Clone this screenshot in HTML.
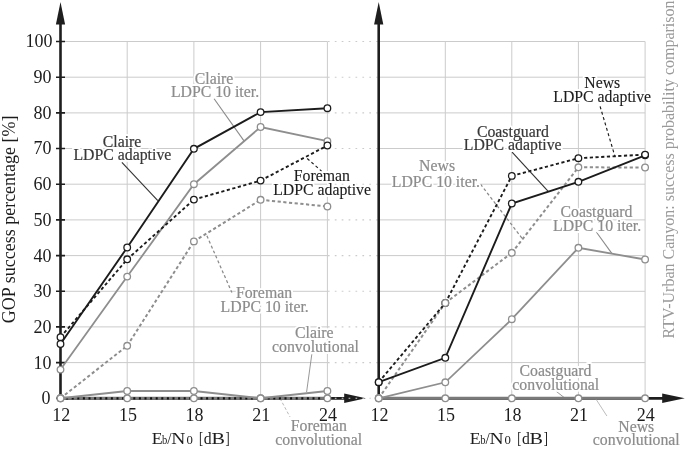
<!DOCTYPE html>
<html><head><meta charset="utf-8"><style>
html,body{margin:0;padding:0;background:#fff;}
svg{display:block;will-change:transform;}
text{font-family:"Liberation Serif",serif;}
.h{paint-order:stroke;stroke:#fff;stroke-width:3.2px;stroke-linejoin:round;}
</style></head><body>
<svg width="685" height="449" viewBox="0 0 685 449">
<rect width="685" height="449" fill="#fff"/>
<path d="M60.5 398.3H327.4 M378.7 398.3H645.1 M60.5 362.6H327.4 M378.7 362.6H645.1 M60.5 326.9H327.4 M378.7 326.9H645.1 M60.5 291.3H327.4 M378.7 291.3H645.1 M60.5 255.6H327.4 M378.7 255.6H645.1 M60.5 219.9H327.4 M378.7 219.9H645.1 M60.5 184.2H327.4 M378.7 184.2H645.1 M60.5 148.5H327.4 M378.7 148.5H645.1 M60.5 112.9H327.4 M378.7 112.9H645.1 M60.5 77.2H327.4 M378.7 77.2H645.1 M60.5 41.5H327.4 M378.7 41.5H645.1 M127.2 41.5V398.3 M193.9 41.5V398.3 M260.6 41.5V398.3 M327.4 41.5V398.3 M445.3 41.5V398.3 M511.8 41.5V398.3 M578.4 41.5V398.3 M645.1 41.5V398.3" stroke="#cbcbcb" stroke-width="1" fill="none"/>
<path d="M327.9 362.6H377.7 M327.9 326.9H377.7 M327.9 291.3H377.7 M327.9 255.6H377.7 M327.9 219.9H377.7 M327.9 184.2H377.7 M327.9 148.5H377.7 M327.9 112.9H377.7 M327.9 77.2H377.7 M327.9 41.5H377.7" stroke="#cbcbcb" stroke-width="1.1" stroke-dasharray="1.7 5.2" fill="none"/>
<path d="M60.5 24V398.3" stroke="#1e1e1e" stroke-width="2.6" fill="none"/>
<path d="M378.7 24V398.3" stroke="#1e1e1e" stroke-width="2.6" fill="none"/>
<path d="M56 398.3H65 M56 362.6H65 M56 326.9H65 M56 291.3H65 M56 255.6H65 M56 219.9H65 M56 184.2H65 M56 148.5H65 M56 112.9H65 M56 77.2H65 M56 41.5H65" stroke="#1e1e1e" stroke-width="1.6" fill="none"/>
<path d="M60.5 2L55.9 24.5H65.1Z" fill="#1e1e1e"/>
<path d="M378.7 2L374.09999999999997 24.5H383.3Z" fill="#1e1e1e"/>
<path d="M60.5 398.3H346" stroke="#1e1e1e" stroke-width="2.7" fill="none"/>
<path d="M378.7 398.3H664" stroke="#1e1e1e" stroke-width="2.7" fill="none"/>
<path d="M365.8 398.3L344.2 393.6V403.0Z" fill="#1e1e1e"/>
<path d="M684.8 398.3L662.2 393.6V403.0Z" fill="#1e1e1e"/>
<path d="M327.9 398.3H377.7" stroke="#d4d4d4" stroke-width="1.1" stroke-dasharray="1.7 5.2" fill="none"/>
<path d="M121.9 162.3L157.8 200.6" stroke="#333" stroke-width="1.15" fill="none"/>
<path d="M214.1 98.8L244.0 140.9" stroke="#8a8a8a" stroke-width="1.1" fill="none"/>
<path d="M307.2 158.5L322.3 171.8" stroke="#1c1c1c" stroke-width="1.15" fill="none" stroke-dasharray="3 2.6"/>
<path d="M206.9 235.8L231.9 292.6" stroke="#8a8a8a" stroke-width="1.25" fill="none" stroke-dasharray="3 2.4"/>
<path d="M311.8 354.3L306.6 392.0" stroke="#8c8c8c" stroke-width="0.9" fill="none"/>
<path d="M280 398.4L290 416.9" stroke="#b0b0b0" stroke-width="0.9" fill="none" stroke-dasharray="3 2"/>
<path d="M600.1 106.4L615.1 156.9" stroke="#1c1c1c" stroke-width="1.15" fill="none" stroke-dasharray="3 2.6"/>
<path d="M512.1 152.1L548.2 191.4" stroke="#333" stroke-width="1.15" fill="none"/>
<path d="M480.6 184.3L522.3 238.6" stroke="#8a8a8a" stroke-width="1.25" fill="none" stroke-dasharray="3 2.4"/>
<path d="M596.5 232.2L611.8 253.4" stroke="#8a8a8a" stroke-width="1.1" fill="none"/>
<path d="M555.5 390.8L564 397.4" stroke="#8c8c8c" stroke-width="0.9" fill="none"/>
<path d="M596 399.2L606.9 416" stroke="#b4b4b4" stroke-width="0.9" fill="none"/>
<path d="M60.5 398.3 L127.2 398.3 L193.9 398.3 L260.6 398.3 L327.4 398.3" stroke="#7a7a7a" stroke-width="3" fill="none"/>
<path d="M60.5 398.3 L127.2 398.3 L193.9 398.3 L260.6 398.3 L327.4 398.3" stroke="#111" stroke-width="2.2" fill="none" stroke-dasharray="2 3.6"/>
<path d="M60.5 398.3 L127.2 391.0 L193.9 391.0 L260.6 398.3 L327.4 391.0" stroke="#8e8e8e" stroke-width="2.0" fill="none"/>
<path d="M60.5 398.3L127.2 345.8 M127.2 345.8L193.9 241.4 M193.9 241.4L260.6 199.8 M260.6 199.8L327.4 206.5" stroke="#8e8e8e" stroke-width="2.0" fill="none" stroke-dasharray="3.2 2.5"/>
<path d="M60.5 369.6 L127.2 276.6 L193.9 184.2 L260.6 127.0 L327.4 141.2" stroke="#8e8e8e" stroke-width="1.8" fill="none"/>
<path d="M60.5 337.2L127.2 259.3 M127.2 259.3L193.9 199.6 M193.9 199.6L260.6 180.6 M260.6 180.6L327.4 145.5" stroke="#1c1c1c" stroke-width="1.9" fill="none" stroke-dasharray="3.2 2.5"/>
<path d="M60.5 344.0 L127.2 247.5 L193.9 148.8 L260.6 112.1 L327.4 108.2" stroke="#1c1c1c" stroke-width="1.9" fill="none"/>
<circle cx="60.5" cy="398.3" r="3.3" fill="#fff" stroke="#8e8e8e" stroke-width="1.3"/>
<circle cx="127.2" cy="398.3" r="3.3" fill="#fff" stroke="#8e8e8e" stroke-width="1.3"/>
<circle cx="193.9" cy="398.3" r="3.3" fill="#fff" stroke="#8e8e8e" stroke-width="1.3"/>
<circle cx="260.6" cy="398.3" r="3.3" fill="#fff" stroke="#8e8e8e" stroke-width="1.3"/>
<circle cx="327.4" cy="398.3" r="3.3" fill="#fff" stroke="#8e8e8e" stroke-width="1.3"/>
<circle cx="60.5" cy="398.3" r="3.3" fill="#fff" stroke="#8e8e8e" stroke-width="1.3"/>
<circle cx="127.2" cy="391.0" r="3.3" fill="#fff" stroke="#8e8e8e" stroke-width="1.3"/>
<circle cx="193.9" cy="391.0" r="3.3" fill="#fff" stroke="#8e8e8e" stroke-width="1.3"/>
<circle cx="260.6" cy="398.3" r="3.3" fill="#fff" stroke="#8e8e8e" stroke-width="1.3"/>
<circle cx="327.4" cy="391.0" r="3.3" fill="#fff" stroke="#8e8e8e" stroke-width="1.3"/>
<circle cx="60.5" cy="398.3" r="3.3" fill="#fff" stroke="#8e8e8e" stroke-width="1.3"/>
<circle cx="127.2" cy="345.8" r="3.3" fill="#fff" stroke="#8e8e8e" stroke-width="1.3"/>
<circle cx="193.9" cy="241.4" r="3.3" fill="#fff" stroke="#8e8e8e" stroke-width="1.3"/>
<circle cx="260.6" cy="199.8" r="3.3" fill="#fff" stroke="#8e8e8e" stroke-width="1.3"/>
<circle cx="327.4" cy="206.5" r="3.3" fill="#fff" stroke="#8e8e8e" stroke-width="1.3"/>
<circle cx="60.5" cy="369.6" r="3.3" fill="#fff" stroke="#8e8e8e" stroke-width="1.3"/>
<circle cx="127.2" cy="276.6" r="3.3" fill="#fff" stroke="#8e8e8e" stroke-width="1.3"/>
<circle cx="193.9" cy="184.2" r="3.3" fill="#fff" stroke="#8e8e8e" stroke-width="1.3"/>
<circle cx="260.6" cy="127.0" r="3.3" fill="#fff" stroke="#8e8e8e" stroke-width="1.3"/>
<circle cx="327.4" cy="141.2" r="3.3" fill="#fff" stroke="#8e8e8e" stroke-width="1.3"/>
<circle cx="60.5" cy="337.2" r="3.3" fill="#fff" stroke="#1c1c1c" stroke-width="1.3"/>
<circle cx="127.2" cy="259.3" r="3.3" fill="#fff" stroke="#1c1c1c" stroke-width="1.3"/>
<circle cx="193.9" cy="199.6" r="3.3" fill="#fff" stroke="#1c1c1c" stroke-width="1.3"/>
<circle cx="260.6" cy="180.6" r="3.3" fill="#fff" stroke="#1c1c1c" stroke-width="1.3"/>
<circle cx="327.4" cy="145.5" r="3.3" fill="#fff" stroke="#1c1c1c" stroke-width="1.3"/>
<circle cx="60.5" cy="344.0" r="3.3" fill="#fff" stroke="#1c1c1c" stroke-width="1.3"/>
<circle cx="127.2" cy="247.5" r="3.3" fill="#fff" stroke="#1c1c1c" stroke-width="1.3"/>
<circle cx="193.9" cy="148.8" r="3.3" fill="#fff" stroke="#1c1c1c" stroke-width="1.3"/>
<circle cx="260.6" cy="112.1" r="3.3" fill="#fff" stroke="#1c1c1c" stroke-width="1.3"/>
<circle cx="327.4" cy="108.2" r="3.3" fill="#fff" stroke="#1c1c1c" stroke-width="1.3"/>
<path d="M378.7 398.3 L445.3 398.3 L511.8 398.3 L578.4 398.3 L645.1 398.3" stroke="#7a7a7a" stroke-width="3" fill="none"/>
<path d="M378.7 398.3 L445.3 382.3 L511.8 319.2 L578.4 247.8 L645.1 259.5" stroke="#8e8e8e" stroke-width="1.8" fill="none"/>
<path d="M378.7 398.3L445.3 303.0 M445.3 303.0L511.8 252.8 M511.8 252.8L578.4 167.3 M578.4 167.3L645.1 167.5" stroke="#8e8e8e" stroke-width="2.0" fill="none" stroke-dasharray="3.2 2.5"/>
<path d="M378.7 382.2 L445.3 357.8 L511.8 203.5 L578.4 181.8 L645.1 155.3" stroke="#1c1c1c" stroke-width="1.9" fill="none"/>
<path d="M378.7 382.2L445.3 303.0 M445.3 303.0L511.8 175.9 M511.8 175.9L578.4 158.2 M578.4 158.2L645.1 154.6" stroke="#1c1c1c" stroke-width="1.9" fill="none" stroke-dasharray="3.2 2.5"/>
<circle cx="378.7" cy="398.3" r="3.3" fill="#fff" stroke="#8e8e8e" stroke-width="1.3"/>
<circle cx="445.3" cy="398.3" r="3.3" fill="#fff" stroke="#8e8e8e" stroke-width="1.3"/>
<circle cx="511.8" cy="398.3" r="3.3" fill="#fff" stroke="#8e8e8e" stroke-width="1.3"/>
<circle cx="578.4" cy="398.3" r="3.3" fill="#fff" stroke="#8e8e8e" stroke-width="1.3"/>
<circle cx="645.1" cy="398.3" r="3.3" fill="#fff" stroke="#8e8e8e" stroke-width="1.3"/>
<circle cx="378.7" cy="398.3" r="3.3" fill="#fff" stroke="#8e8e8e" stroke-width="1.3"/>
<circle cx="445.3" cy="382.3" r="3.3" fill="#fff" stroke="#8e8e8e" stroke-width="1.3"/>
<circle cx="511.8" cy="319.2" r="3.3" fill="#fff" stroke="#8e8e8e" stroke-width="1.3"/>
<circle cx="578.4" cy="247.8" r="3.3" fill="#fff" stroke="#8e8e8e" stroke-width="1.3"/>
<circle cx="645.1" cy="259.5" r="3.3" fill="#fff" stroke="#8e8e8e" stroke-width="1.3"/>
<circle cx="378.7" cy="382.2" r="3.3" fill="#fff" stroke="#1c1c1c" stroke-width="1.3"/>
<circle cx="445.3" cy="357.8" r="3.3" fill="#fff" stroke="#1c1c1c" stroke-width="1.3"/>
<circle cx="511.8" cy="203.5" r="3.3" fill="#fff" stroke="#1c1c1c" stroke-width="1.3"/>
<circle cx="578.4" cy="181.8" r="3.3" fill="#fff" stroke="#1c1c1c" stroke-width="1.3"/>
<circle cx="645.1" cy="155.3" r="3.3" fill="#fff" stroke="#1c1c1c" stroke-width="1.3"/>
<circle cx="378.7" cy="382.2" r="3.3" fill="#fff" stroke="#1c1c1c" stroke-width="1.3"/>
<circle cx="445.3" cy="303.0" r="3.3" fill="#fff" stroke="#1c1c1c" stroke-width="1.3"/>
<circle cx="511.8" cy="175.9" r="3.3" fill="#fff" stroke="#1c1c1c" stroke-width="1.3"/>
<circle cx="578.4" cy="158.2" r="3.3" fill="#fff" stroke="#1c1c1c" stroke-width="1.3"/>
<circle cx="645.1" cy="154.6" r="3.3" fill="#fff" stroke="#1c1c1c" stroke-width="1.3"/>
<circle cx="378.7" cy="398.3" r="3.3" fill="#fff" stroke="#8e8e8e" stroke-width="1.3"/>
<circle cx="445.3" cy="303.0" r="3.3" fill="#fff" stroke="#8e8e8e" stroke-width="1.3"/>
<circle cx="511.8" cy="252.8" r="3.3" fill="#fff" stroke="#8e8e8e" stroke-width="1.3"/>
<circle cx="578.4" cy="167.3" r="3.3" fill="#fff" stroke="#8e8e8e" stroke-width="1.3"/>
<circle cx="645.1" cy="167.5" r="3.3" fill="#fff" stroke="#8e8e8e" stroke-width="1.3"/>
<text x="122.1" y="146.9" fill="#fff" stroke="#fff" stroke-width="4" stroke-linejoin="round" font-size="15.8" text-anchor="middle">Claire</text>
<text x="122.4" y="160.3" fill="#fff" stroke="#fff" stroke-width="4" stroke-linejoin="round" font-size="15.8" text-anchor="middle">LDPC adaptive</text>
<text x="214.1" y="83.7" fill="#fff" stroke="#fff" stroke-width="4" stroke-linejoin="round" font-size="15.8" text-anchor="middle">Claire</text>
<text x="215.0" y="97.0" fill="#fff" stroke="#fff" stroke-width="4" stroke-linejoin="round" font-size="15.8" text-anchor="middle">LDPC 10 iter.</text>
<text x="321.9" y="181.0" fill="#fff" stroke="#fff" stroke-width="4" stroke-linejoin="round" font-size="15.8" text-anchor="middle">Foreman</text>
<text x="322.1" y="194.7" fill="#fff" stroke="#fff" stroke-width="4" stroke-linejoin="round" font-size="15.8" text-anchor="middle">LDPC adaptive</text>
<text x="264.0" y="298.4" fill="#fff" stroke="#fff" stroke-width="4" stroke-linejoin="round" font-size="15.8" text-anchor="middle">Foreman</text>
<text x="264.7" y="311.9" fill="#fff" stroke="#fff" stroke-width="4" stroke-linejoin="round" font-size="15.8" text-anchor="middle">LDPC 10 iter.</text>
<text x="314.3" y="337.8" fill="#fff" stroke="#fff" stroke-width="4" stroke-linejoin="round" font-size="15.8" text-anchor="middle">Claire</text>
<text x="315.5" y="351.8" fill="#fff" stroke="#fff" stroke-width="4" stroke-linejoin="round" font-size="15.8" text-anchor="middle">convolutional</text>
<text x="318.9" y="430.7" fill="#fff" stroke="#fff" stroke-width="4" stroke-linejoin="round" font-size="15.8" text-anchor="middle">Foreman</text>
<text x="318.7" y="445.0" fill="#fff" stroke="#fff" stroke-width="4" stroke-linejoin="round" font-size="15.8" text-anchor="middle">convolutional</text>
<text x="602.3" y="88.1" fill="#fff" stroke="#fff" stroke-width="4" stroke-linejoin="round" font-size="15.8" text-anchor="middle">News</text>
<text x="602.2" y="101.9" fill="#fff" stroke="#fff" stroke-width="4" stroke-linejoin="round" font-size="15.8" text-anchor="middle">LDPC adaptive</text>
<text x="512.9" y="136.6" fill="#fff" stroke="#fff" stroke-width="4" stroke-linejoin="round" font-size="15.8" text-anchor="middle">Coastguard</text>
<text x="512.7" y="150.1" fill="#fff" stroke="#fff" stroke-width="4" stroke-linejoin="round" font-size="15.8" text-anchor="middle">LDPC adaptive</text>
<text x="437.1" y="171.4" fill="#fff" stroke="#fff" stroke-width="4" stroke-linejoin="round" font-size="15.8" text-anchor="middle">News</text>
<text x="435.9" y="186.6" fill="#fff" stroke="#fff" stroke-width="4" stroke-linejoin="round" font-size="15.8" text-anchor="middle">LDPC 10 iter.</text>
<text x="596.5" y="217.0" fill="#fff" stroke="#fff" stroke-width="4" stroke-linejoin="round" font-size="15.8" text-anchor="middle">Coastguard</text>
<text x="597.1" y="231.2" fill="#fff" stroke="#fff" stroke-width="4" stroke-linejoin="round" font-size="15.8" text-anchor="middle">LDPC 10 iter.</text>
<text x="555.5" y="376.2" fill="#fff" stroke="#fff" stroke-width="4" stroke-linejoin="round" font-size="15.8" text-anchor="middle">Coastguard</text>
<text x="555.8" y="389.5" fill="#fff" stroke="#fff" stroke-width="4" stroke-linejoin="round" font-size="15.8" text-anchor="middle">convolutional</text>
<text x="636.3" y="431.7" fill="#fff" stroke="#fff" stroke-width="4" stroke-linejoin="round" font-size="15.8" text-anchor="middle">News</text>
<text x="636.3" y="445.1" fill="#fff" stroke="#fff" stroke-width="4" stroke-linejoin="round" font-size="15.8" text-anchor="middle">convolutional</text>
<text x="122.1" y="146.9" fill="#383838" stroke="#383838" stroke-width="0.2" font-size="15.8" text-anchor="middle">Claire</text>
<text x="122.4" y="160.3" fill="#383838" stroke="#383838" stroke-width="0.2" font-size="15.8" text-anchor="middle">LDPC adaptive</text>
<text x="214.1" y="83.7" fill="#8c8c8c" stroke="#8c8c8c" stroke-width="0.2" font-size="15.8" text-anchor="middle">Claire</text>
<text x="215.0" y="97.0" fill="#8c8c8c" stroke="#8c8c8c" stroke-width="0.2" font-size="15.8" text-anchor="middle">LDPC 10 iter.</text>
<text x="321.9" y="181.0" fill="#1c1c1c" stroke="#1c1c1c" stroke-width="0.12" font-size="15.8" text-anchor="middle">Foreman</text>
<text x="322.1" y="194.7" fill="#1c1c1c" stroke="#1c1c1c" stroke-width="0.12" font-size="15.8" text-anchor="middle">LDPC adaptive</text>
<text x="264.0" y="298.4" fill="#8c8c8c" stroke="#8c8c8c" stroke-width="0.2" font-size="15.8" text-anchor="middle">Foreman</text>
<text x="264.7" y="311.9" fill="#8c8c8c" stroke="#8c8c8c" stroke-width="0.2" font-size="15.8" text-anchor="middle">LDPC 10 iter.</text>
<text x="314.3" y="337.8" fill="#8c8c8c" stroke="#8c8c8c" stroke-width="0.2" font-size="15.8" text-anchor="middle">Claire</text>
<text x="315.5" y="351.8" fill="#8c8c8c" stroke="#8c8c8c" stroke-width="0.2" font-size="15.8" text-anchor="middle">convolutional</text>
<text x="318.9" y="430.7" fill="#8c8c8c" stroke="#8c8c8c" stroke-width="0.2" font-size="15.8" text-anchor="middle">Foreman</text>
<text x="318.7" y="445.0" fill="#8c8c8c" stroke="#8c8c8c" stroke-width="0.2" font-size="15.8" text-anchor="middle">convolutional</text>
<text x="602.3" y="88.1" fill="#1c1c1c" stroke="#1c1c1c" stroke-width="0.12" font-size="15.8" text-anchor="middle">News</text>
<text x="602.2" y="101.9" fill="#1c1c1c" stroke="#1c1c1c" stroke-width="0.12" font-size="15.8" text-anchor="middle">LDPC adaptive</text>
<text x="512.9" y="136.6" fill="#383838" stroke="#383838" stroke-width="0.2" font-size="15.8" text-anchor="middle">Coastguard</text>
<text x="512.7" y="150.1" fill="#383838" stroke="#383838" stroke-width="0.2" font-size="15.8" text-anchor="middle">LDPC adaptive</text>
<text x="437.1" y="171.4" fill="#8c8c8c" stroke="#8c8c8c" stroke-width="0.2" font-size="15.8" text-anchor="middle">News</text>
<text x="435.9" y="186.6" fill="#8c8c8c" stroke="#8c8c8c" stroke-width="0.2" font-size="15.8" text-anchor="middle">LDPC 10 iter.</text>
<text x="596.5" y="217.0" fill="#8c8c8c" stroke="#8c8c8c" stroke-width="0.2" font-size="15.8" text-anchor="middle">Coastguard</text>
<text x="597.1" y="231.2" fill="#8c8c8c" stroke="#8c8c8c" stroke-width="0.2" font-size="15.8" text-anchor="middle">LDPC 10 iter.</text>
<text x="555.5" y="376.2" fill="#8c8c8c" stroke="#8c8c8c" stroke-width="0.2" font-size="15.8" text-anchor="middle">Coastguard</text>
<text x="555.8" y="389.5" fill="#8c8c8c" stroke="#8c8c8c" stroke-width="0.2" font-size="15.8" text-anchor="middle">convolutional</text>
<text x="636.3" y="431.7" fill="#8c8c8c" stroke="#8c8c8c" stroke-width="0.2" font-size="15.8" text-anchor="middle">News</text>
<text x="636.3" y="445.1" fill="#8c8c8c" stroke="#8c8c8c" stroke-width="0.2" font-size="15.8" text-anchor="middle">convolutional</text>
<text x="50.6" y="404.2" font-size="18" text-anchor="end" fill="#1c1c1c">0</text>
<text x="51.4" y="368.5" font-size="18" text-anchor="end" fill="#1c1c1c">10</text>
<text x="51.4" y="332.8" font-size="18" text-anchor="end" fill="#1c1c1c">20</text>
<text x="51.4" y="297.2" font-size="18" text-anchor="end" fill="#1c1c1c">30</text>
<text x="51.4" y="261.5" font-size="18" text-anchor="end" fill="#1c1c1c">40</text>
<text x="51.4" y="225.8" font-size="18" text-anchor="end" fill="#1c1c1c">50</text>
<text x="51.4" y="190.1" font-size="18" text-anchor="end" fill="#1c1c1c">60</text>
<text x="51.4" y="154.4" font-size="18" text-anchor="end" fill="#1c1c1c">70</text>
<text x="51.4" y="118.8" font-size="18" text-anchor="end" fill="#1c1c1c">80</text>
<text x="51.4" y="83.1" font-size="18" text-anchor="end" fill="#1c1c1c">90</text>
<text x="52.6" y="47.4" font-size="18" text-anchor="end" fill="#1c1c1c">100</text>
<text x="61.2" y="420.8" font-size="18" text-anchor="middle" fill="#1c1c1c">12</text>
<text x="127.9" y="420.8" font-size="18" text-anchor="middle" fill="#1c1c1c">15</text>
<text x="194.6" y="420.8" font-size="18" text-anchor="middle" fill="#1c1c1c">18</text>
<text x="261.3" y="420.8" font-size="18" text-anchor="middle" fill="#1c1c1c">21</text>
<text x="328.1" y="420.8" font-size="18" text-anchor="middle" fill="#1c1c1c">24</text>
<text x="379.4" y="420.8" font-size="18" text-anchor="middle" fill="#1c1c1c">12</text>
<text x="446.0" y="420.8" font-size="18" text-anchor="middle" fill="#1c1c1c">15</text>
<text x="512.5" y="420.8" font-size="18" text-anchor="middle" fill="#1c1c1c">18</text>
<text x="579.1" y="420.8" font-size="18" text-anchor="middle" fill="#1c1c1c">21</text>
<text x="645.8" y="420.8" font-size="18" text-anchor="middle" fill="#1c1c1c">24</text>
<text x="151.69" y="443.9" font-size="17.5" fill="#1c1c1c" textLength="10.90" lengthAdjust="spacingAndGlyphs">E</text>
<text x="162.00" y="443.9" font-size="12.5" fill="#1c1c1c" textLength="5.30" lengthAdjust="spacingAndGlyphs">b</text>
<text x="167.20" y="443.9" font-size="17.5" fill="#1c1c1c" textLength="4.30" lengthAdjust="spacingAndGlyphs">/</text>
<text x="171.34" y="443.9" font-size="17.5" fill="#1c1c1c" textLength="14.11" lengthAdjust="spacingAndGlyphs">N</text>
<text x="186.41" y="443.9" font-size="13" fill="#1c1c1c" textLength="6.37" lengthAdjust="spacingAndGlyphs">0</text>
<text x="199.00" y="443.9" font-size="17.5" fill="#1c1c1c" textLength="4.04" lengthAdjust="spacingAndGlyphs">[</text>
<text x="203.83" y="443.9" font-size="17.5" fill="#1c1c1c" textLength="7.86" lengthAdjust="spacingAndGlyphs">d</text>
<text x="211.42" y="443.9" font-size="17.5" fill="#1c1c1c" textLength="13.47" lengthAdjust="spacingAndGlyphs">B</text>
<text x="225.55" y="443.9" font-size="17.5" fill="#1c1c1c" textLength="4.19" lengthAdjust="spacingAndGlyphs">]</text>
<text x="469.89" y="443.9" font-size="17.5" fill="#1c1c1c" textLength="10.90" lengthAdjust="spacingAndGlyphs">E</text>
<text x="480.20" y="443.9" font-size="12.5" fill="#1c1c1c" textLength="5.30" lengthAdjust="spacingAndGlyphs">b</text>
<text x="485.40" y="443.9" font-size="17.5" fill="#1c1c1c" textLength="4.30" lengthAdjust="spacingAndGlyphs">/</text>
<text x="489.54" y="443.9" font-size="17.5" fill="#1c1c1c" textLength="14.11" lengthAdjust="spacingAndGlyphs">N</text>
<text x="504.61" y="443.9" font-size="13" fill="#1c1c1c" textLength="6.37" lengthAdjust="spacingAndGlyphs">0</text>
<text x="517.20" y="443.9" font-size="17.5" fill="#1c1c1c" textLength="4.04" lengthAdjust="spacingAndGlyphs">[</text>
<text x="522.03" y="443.9" font-size="17.5" fill="#1c1c1c" textLength="7.86" lengthAdjust="spacingAndGlyphs">d</text>
<text x="529.62" y="443.9" font-size="17.5" fill="#1c1c1c" textLength="13.47" lengthAdjust="spacingAndGlyphs">B</text>
<text x="543.75" y="443.9" font-size="17.5" fill="#1c1c1c" textLength="4.19" lengthAdjust="spacingAndGlyphs">]</text>
<text transform="translate(14.9 219.3) rotate(-90)" font-size="18" text-anchor="middle" fill="#1c1c1c">GOP success percentage [%]</text>
<text transform="translate(673.8 338.4) rotate(-90)" font-size="16" fill="#9a9a9a">RTV-Urban Canyon: success probability comparison</text>
</svg>
</body></html>
